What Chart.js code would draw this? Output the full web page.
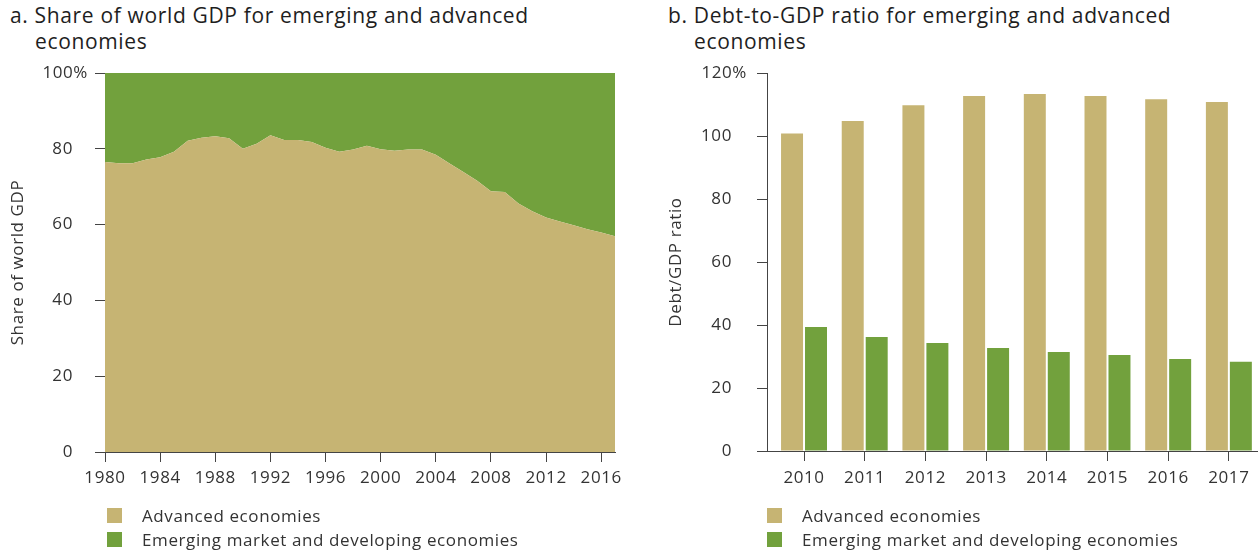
<!DOCTYPE html>
<html>
<head>
<meta charset="utf-8">
<script src="https://cdn.jsdelivr.net/npm/chart.js@4.4.1/dist/chart.umd.min.js"></script>
<style>
  body { margin: 0; background: #fff; font-family: "Open Sans", "Liberation Sans", Arial, sans-serif; color: #222; }
  #wrap { position: relative; width: 1258px; height: 552px; overflow: hidden; }
  canvas { position: absolute; top: 0; }
  .title { position: absolute; font-size: 21px; line-height: 26px; letter-spacing: 0.65px; color: #1e1e1e; white-space: nowrap; }
  .title span { display: block; }
  .legend { position: absolute; font-size: 17px; letter-spacing: 0.6px; color: #333; white-space: nowrap; }
  .legend .row { height: 24px; display: flex; align-items: center; }
  .legend .box { width: 15px; height: 15px; margin-right: 20px; }
</style>
</head>
<body>
<div id="wrap">
  <div class="title" style="left:10px; top:2px;">
    <span>a. Share of world GDP for emerging and advanced</span>
    <span style="padding-left:25px">economies</span>
  </div>
  <div class="title" style="left:668px; top:2px;">
    <span>b. Debt-to-GDP ratio for emerging and advanced</span>
    <span style="padding-left:26px">economies</span>
  </div>
  <canvas id="chart-a" width="629" height="552" style="left:0"></canvas>
  <canvas id="chart-b" width="629" height="552" style="left:629px"></canvas>
  <div class="legend" id="legend-a" style="left:107px; top:503px;"></div>
  <div class="legend" id="legend-b" style="left:767px; top:503px;"></div>
</div>
<script>
// panel a: share of world GDP (%)
const gdpYears = [1980, 1981, 1982, 1983, 1984, 1985, 1986, 1987, 1988, 1989,
                  1990, 1991, 1992, 1993, 1994, 1995, 1996, 1997, 1998, 1999,
                  2000, 2001, 2002, 2003, 2004, 2005, 2006, 2007, 2008, 2009,
                  2010, 2011, 2012, 2013, 2014, 2015, 2016, 2017];
const advancedShare = [76.5, 76.2, 76.2, 77.2, 77.8, 79.2, 82.1, 82.9, 83.3, 82.8,
                       80.0, 81.3, 83.6, 82.3, 82.3, 81.8, 80.3, 79.2, 79.8, 80.8,
                       79.9, 79.5, 79.8, 79.8, 78.4, 76.1, 73.9, 71.6, 68.8, 68.6,
                       65.6, 63.5, 61.9, 60.8, 59.8, 58.8, 57.9, 56.9];
const emergingShare = [23.5, 23.8, 23.8, 22.8, 22.2, 20.8, 17.9, 17.1, 16.7, 17.2,
                       20.0, 18.7, 16.4, 17.7, 17.7, 18.2, 19.7, 20.8, 20.2, 19.2,
                       20.1, 20.5, 20.2, 20.2, 21.6, 23.9, 26.1, 28.4, 31.2, 31.4,
                       34.4, 36.5, 38.1, 39.2, 40.2, 41.2, 42.1, 43.1];

// panel b: debt-to-GDP ratio (%)
const debtYears = [2010, 2011, 2012, 2013, 2014, 2015, 2016, 2017];
const advancedDebt = [100.8, 104.8, 109.8, 112.7, 113.3, 112.7, 111.7, 110.8];
const emergingDebt = [39.4, 36.2, 34.3, 32.7, 31.4, 30.5, 29.2, 28.3];

const seriesNames = ['Advanced economies', 'Emerging market and developing economies'];

const TAN = '#C6B473';
const GREEN = '#72A13D';
const AXIS = '#444';
const TICK_TEXT = '#333';
const FONT = '"Open Sans", "Liberation Sans", Arial, sans-serif';
const TRACKING = '0.6px';

Chart.defaults.font.family = FONT;
Chart.defaults.color = TICK_TEXT;

// the % only goes on the top label; the others get trailing spaces about as wide
// as the % so the numbers line up and the % hangs out to the right
const measure = document.createElement('canvas').getContext('2d');
measure.font = '17px ' + FONT;
measure.letterSpacing = TRACKING;
const nSpaces = Math.round(measure.measureText('%').width / measure.measureText(' ').width);
const pad = ' '.repeat(nSpaces);
const pctLast = (max) => (v) => v === max ? v + '%' : v + pad;

// looser tracking on the canvas text, like the original typeface
const tracking = {
    id: 'tracking',
    beforeDraw(chart) { chart.ctx.letterSpacing = TRACKING; }
};

function axisStyle() {
    return {
        grid: { display: true, drawOnChartArea: false, color: AXIS, tickLength: 10, offset: false },
        border: { display: true, color: AXIS, width: 1 },
    };
}

function buildLegend(id) {
    const el = document.getElementById(id);
    [TAN, GREEN].forEach((c, i) => {
        const row = document.createElement('div');
        row.className = 'row';
        row.innerHTML = '<div class="box" style="background:' + c + '"></div><div>' + seriesNames[i] + '</div>';
        el.appendChild(row);
    });
}

// ---- chart a: stacked area
new Chart(document.getElementById('chart-a'), {
    type: 'line',
    plugins: [tracking],
    data: {
        labels: gdpYears,
        datasets: [{
            label: seriesNames[0],
            data: advancedShare,
            backgroundColor: TAN,
            borderWidth: 0,
            pointRadius: 0,
            fill: 'origin',
        }, {
            label: seriesNames[1],
            data: emergingShare,
            backgroundColor: GREEN,
            borderWidth: 0,
            pointRadius: 0,
            fill: '-1',
        }]
    },
    options: {
        responsive: false,
        animation: false,
        layout: { padding: { top: 73, right: 14, left: 0, bottom: 0 } },
        plugins: { legend: { display: false }, tooltip: { enabled: false } },
        scales: {
            x: {
                type: 'linear',
                min: 1980, max: 2017,
                ...axisStyle(),
                ticks: { stepSize: 4, includeBounds: false, padding: 6, maxRotation: 0,
                         font: { size: 17 }, color: TICK_TEXT, callback: (v) => String(v) },
                afterFit: (s) => { s.height = 100; },
            },
            y: {
                stacked: true,
                min: 0, max: 100,
                ...axisStyle(),
                ticks: { stepSize: 20, padding: 7, font: { size: 17 }, color: TICK_TEXT, callback: pctLast(100) },
                title: { display: true, text: 'Share of world GDP', font: { size: 17 }, color: TICK_TEXT,
                         padding: { top: 8, bottom: 0 } },
                afterFit: (s) => { s.width = 105; },
            }
        }
    }
});

// ---- chart b: grouped bars
new Chart(document.getElementById('chart-b'), {
    type: 'bar',
    plugins: [tracking],
    data: {
        labels: debtYears,
        datasets: [{
            label: seriesNames[0],
            data: advancedDebt,
            backgroundColor: TAN,
            categoryPercentage: 0.79,
            barPercentage: 0.917,
        }, {
            label: seriesNames[1],
            data: emergingDebt,
            backgroundColor: GREEN,
            categoryPercentage: 0.79,
            barPercentage: 0.917,
        }]
    },
    options: {
        responsive: false,
        animation: false,
        layout: { padding: { top: 73, right: 0, left: 0, bottom: 0 } },
        plugins: { legend: { display: false }, tooltip: { enabled: false } },
        scales: {
            x: {
                type: 'linear',
                min: 2009.39, max: 2017.48,
                offset: false,
                ...axisStyle(),
                ticks: { stepSize: 1, includeBounds: false, padding: 7, maxRotation: 0, autoSkip: false,
                         font: { size: 17 }, color: TICK_TEXT, callback: (v) => String(v) },
                afterFit: (s) => { s.height = 101; },
            },
            y: {
                min: 0, max: 120,
                ...axisStyle(),
                ticks: { stepSize: 20, padding: 10, font: { size: 17 }, color: TICK_TEXT, callback: pctLast(120) },
                title: { display: true, text: 'Debt/GDP ratio', font: { size: 17 }, color: TICK_TEXT,
                         padding: { top: 37, bottom: 0 } },
                afterFit: (s) => { s.width = 138; },
            }
        }
    }
});

buildLegend('legend-a');
buildLegend('legend-b');
</script>
</body>
</html>
